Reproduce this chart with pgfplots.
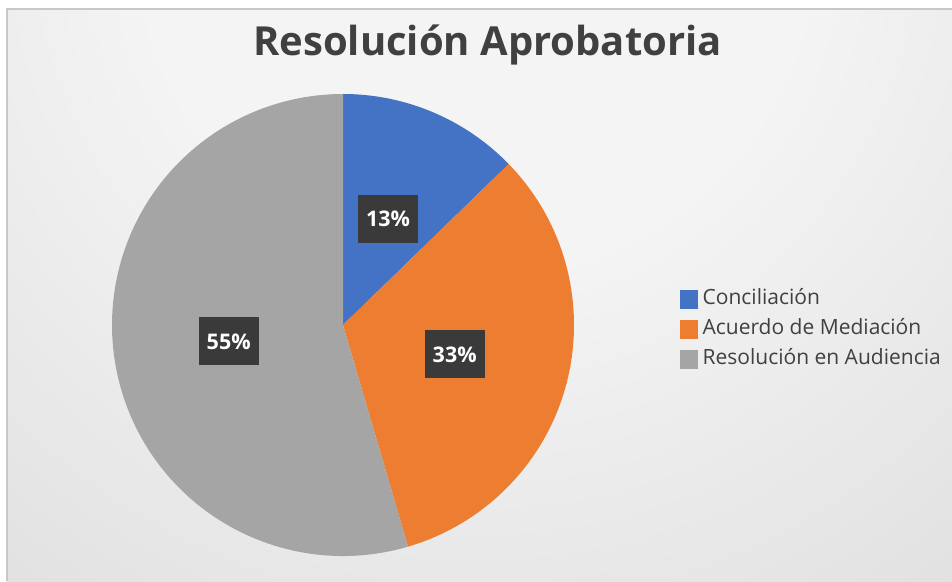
\documentclass[border=0pt]{standalone}
\usepackage{pgfplots}
\pgfplotsset{compat=1.18}
\usepackage{pgfplotstable}
\usepackage{fontspec}
\setmainfont{Open Sans}
\definecolor{cA}{HTML}{4472C4}
\definecolor{cB}{HTML}{ED7D31}
\definecolor{cC}{HTML}{A5A5A5}
\definecolor{txt}{HTML}{404040}
\definecolor{bglight}{HTML}{F4F4F4}
\definecolor{bgdark}{HTML}{C0C0C0}
\definecolor{brd}{HTML}{C8C8C8}
\definecolor{lblbg}{HTML}{3A3A3A}
\pgfdeclareradialshading{bgshade}{\pgfpoint{0bp}{0bp}}{color(0bp)=(bglight); color(10bp)=(bglight); color(50bp)=(bgdark)}

\pgfplotstableread{
value pct
12.73 13
32.73 33
54.55 55
}\piedata

\begin{document}
\begin{tikzpicture}[x=1pt,y=1pt,
  lbl/.style={fill=lblbg, text=white, font=\fontsize{21.5}{21.5}\selectfont\bfseries,
    inner xsep=8pt, minimum height=48pt}]
\useasboundingbox (0,0) rectangle (952,581);
\fill[white] (0,0) rectangle (952,581);
\begin{scope}
\clip (7,0) rectangle (952,572);
\shade[shading=bgshade] (476,640) circle (820);
\end{scope}
\draw[brd, line width=1.5] (7,0) -- (7,572) -- (952,572);

% read data
\pgfplotstablegetelem{0}{value}\of\piedata \let\vA\pgfplotsretval
\pgfplotstablegetelem{1}{value}\of\piedata \let\vB\pgfplotsretval
\pgfplotstablegetelem{2}{value}\of\piedata \let\vC\pgfplotsretval
\pgfplotstablegetelem{0}{pct}\of\piedata \let\pA\pgfplotsretval
\pgfplotstablegetelem{1}{pct}\of\piedata \let\pB\pgfplotsretval
\pgfplotstablegetelem{2}{pct}\of\piedata \let\pC\pgfplotsretval
\pgfmathsetmacro\tot{\vA+\vB+\vC}
\pgfmathsetmacro\aA{90}
\pgfmathsetmacro\aB{\aA-(\vA/\tot)*360}
\pgfmathsetmacro\aC{\aB-(\vB/\tot)*360}
\pgfmathsetmacro\aD{\aC-(\vC/\tot)*360}
\pgfmathsetmacro\lAx{343+115.5*cos((\aA+\aB)/2)}
\pgfmathsetmacro\lAy{256+115.5*sin((\aA+\aB)/2)}
\pgfmathsetmacro\lBx{343+115.5*cos((\aB+\aC)/2)}
\pgfmathsetmacro\lBy{256+115.5*sin((\aB+\aC)/2)}
\pgfmathsetmacro\lCx{343+115.5*cos((\aC+\aD)/2)}
\pgfmathsetmacro\lCy{256+115.5*sin((\aC+\aD)/2)}

\begin{axis}[
  at={(0,0)}, anchor=south west,
  scale only axis, width=952pt, height=581pt,
  xmin=0, xmax=952, ymin=0, ymax=581,
  hide axis, clip=false,
  legend style={at={(axis cs:677,294)}, anchor=north west, draw=none, fill=none,
    font=\fontsize{21}{22}\selectfont\color{txt},
    nodes={inner sep=0pt, text height=15pt, text depth=5pt},
    row sep=10pt},
  legend cell align=left,
]
\fill[cA] (axis cs:343,256) -- ++(\aA:231pt) arc[start angle=\aA, end angle=\aB, radius=231pt] -- cycle;
\fill[cB] (axis cs:343,256) -- ++(\aB:231pt) arc[start angle=\aB, end angle=\aC, radius=231pt] -- cycle;
\fill[cC] (axis cs:343,256) -- ++(\aC:231pt) arc[start angle=\aC, end angle=\aD, radius=231pt] -- cycle;
\node[lbl] at (axis cs:\lAx,\lAy) {\pA\%};
\node[lbl] at (axis cs:\lBx,\lBy) {\pB\%};
\node[lbl] at (axis cs:\lCx,\lCy) {\pC\%};
\node[anchor=base, text=txt, font=\fontsize{40}{46}\selectfont\bfseries, inner sep=0pt] at (axis cs:487.5,525) {Resolución Aprobatoria};
\addlegendimage{legend image code/.code={\fill[cA] (0pt,-9pt) rectangle (17pt,9pt); \path (22pt,0pt);}}
\addlegendentry{Conciliación}
\addlegendimage{legend image code/.code={\fill[cB] (0pt,-9pt) rectangle (17pt,9pt); \path (22pt,0pt);}}
\addlegendentry{Acuerdo de Mediación}
\addlegendimage{legend image code/.code={\fill[cC] (0pt,-9pt) rectangle (17pt,9pt); \path (22pt,0pt);}}
\addlegendentry{Resolución en Audiencia}
\end{axis}
\end{tikzpicture}
\end{document}
